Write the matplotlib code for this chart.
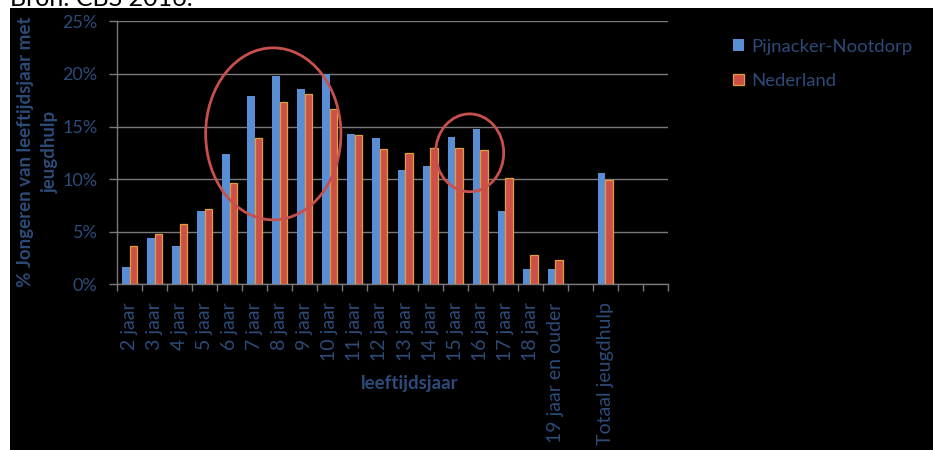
import matplotlib
matplotlib.use("Agg")
import matplotlib.pyplot as plt
from matplotlib.patches import Ellipse, Rectangle
import numpy as np

plt.rcParams['font.family'] = ['Lato', 'DejaVu Sans']

categories = ["2 jaar", "3 jaar", "4 jaar", "5 jaar", "6 jaar", "7 jaar", "8 jaar",
              "9 jaar", "10 jaar", "11 jaar", "12 jaar", "13 jaar", "14 jaar",
              "15 jaar", "16 jaar", "17 jaar", "18 jaar", "19 jaar en ouder",
              "", "Totaal jeugdhulp", "", ""]
pijnacker = [1.6, 4.4, 3.6, 7.0, 12.4, 17.9, 19.8, 18.6, 20.0, 14.3, 13.9, 10.9,
             11.2, 14.0, 14.8, 7.0, 1.45, 1.5, None, 10.6, None, None]
nederland = [3.6, 4.8, 5.7, 7.2, 9.6, 13.9, 17.3, 18.1, 16.7, 14.2, 12.9, 12.5,
             13.0, 13.0, 12.8, 10.1, 2.8, 2.3, None, 9.9, None, None]
series_names = ["Pijnacker-Nootdorp", "Nederland"]
yticks = [0, 5, 10, 15, 20, 25]

BLUE = "#5A8ED4"
RED = "#CC5048"
GOLD = "#E3A03A"
TXT = "#2C4B78"
GRID = "#7A7A7A"

W, H = 933, 450
fig = plt.figure(figsize=(W / 100, H / 100), dpi=100, facecolor="white")

# black slide background
fig.patches.append(Rectangle((10 / W, 0), 1 - 10 / W, 1 - 8 / H,
                             transform=fig.transFigure, facecolor="black",
                             edgecolor="none", zorder=-10))
fig.text(10 / W, 1 - 6 / H, "Bron: CBS 2016.", fontsize=18, color="black",
         va="baseline", ha="left")

ax = fig.add_axes([117 / W, 165.7 / H, (668 - 117) / W, (428.7 - 165.7) / H])
ax.set_zorder(1)
ax.set_facecolor("black")

x = np.arange(len(categories))
bw = 0.3
pv = np.array([np.nan if v is None else v for v in pijnacker])
nv = np.array([np.nan if v is None else v for v in nederland])
ax.bar(x - bw / 2, pv, width=bw, color=BLUE, edgecolor="none", zorder=3,
       label=series_names[0])
ax.bar(x + bw / 2, nv, width=bw, color=RED, edgecolor=GOLD, linewidth=0.9,
       zorder=3, label=series_names[1])

ax.set_xlim(-0.5, len(categories) - 0.5)
ax.set_ylim(0, 25)
ax.set_yticks(yticks)
ax.set_yticklabels([f"{t}%" for t in yticks])
ax.yaxis.grid(True, color=GRID, linewidth=1.0, zorder=0)
ax.set_axisbelow(True)

ax.set_xticks(x)
ax.set_xticklabels(categories, rotation=90, va="top", ha="center")
ax.set_xticks(np.arange(-0.5, len(categories), 1), minor=True)
ax.tick_params(axis="x", which="major", length=0, pad=13, labelsize=14,
               labelcolor=TXT)
ax.tick_params(axis="x", which="minor", length=5, color=GRID, width=1)
ax.tick_params(axis="y", length=6, color=GRID, width=1, labelsize=13,
               labelcolor=TXT, pad=8)

for s in ["top", "right"]:
    ax.spines[s].set_visible(False)
for s in ["left", "bottom"]:
    ax.spines[s].set_color(GRID)
    ax.spines[s].set_linewidth(1)

# highlight circles
ax.add_patch(Ellipse((5.74, 14.3), 5.4, 16.35, fill=False, edgecolor="#C8504C",
                     linewidth=2, zorder=5, clip_on=False))
ax.add_patch(Ellipse((13.58, 12.5), 2.72, 7.4, fill=False, edgecolor="#C8504C",
                     linewidth=2, zorder=5, clip_on=False))

fig.text(38 / W, 1 - 152 / H, "% Jongeren van leeftijdsjaar met\njeugdhulp",
         rotation=90, ha="center", va="center", fontsize=13.5,
         fontweight="bold", color=TXT, linespacing=1.55)
fig.text(410 / W, 1 - 383 / H, "leeftijdsjaar", ha="center", va="center",
         fontsize=13.5, fontweight="bold", color=TXT)

leg = fig.legend(loc="upper left", bbox_to_anchor=(716 / W, 1 - 22 / H),
                 frameon=False, fontsize=13.3, labelcolor=TXT,
                 handlelength=0.6, handleheight=0.6, handletextpad=0.4,
                 labelspacing=1.0)

fig.savefig("out.png", dpi=100, facecolor="white")
